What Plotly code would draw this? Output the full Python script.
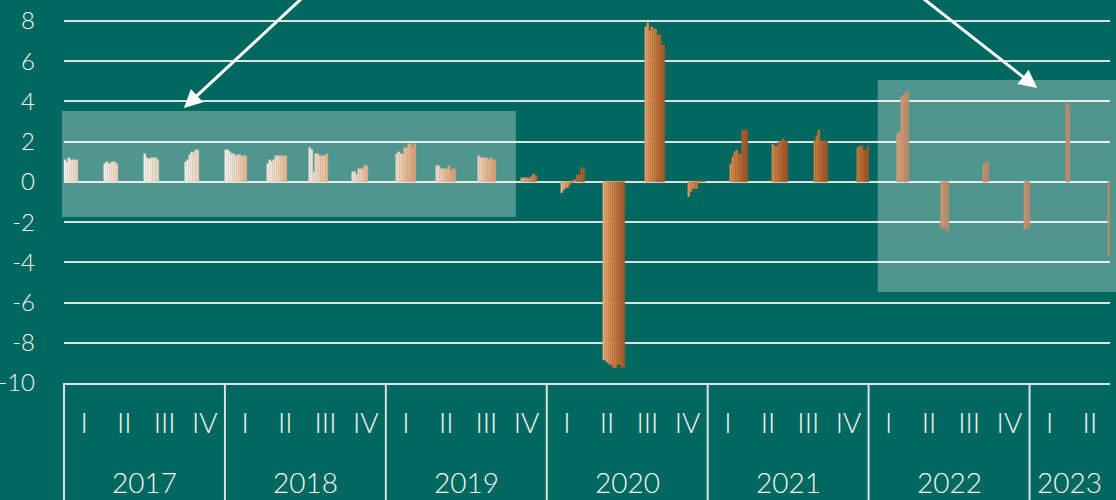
import numpy as np
import plotly.graph_objects as go

# ---------------- data ----------------
years = ["2017", "2018", "2019", "2020", "2021", "2022", "2023"]
quarter_names = ["I", "II", "III", "IV"]
quarters = [f"{y} {q}" for y in years for q in quarter_names][:26]
quarter_ticks = [q.split(" ")[1] for q in quarters]
n_vintages = 20

# index of the first estimate vintage available for each quarter
first_vintage = [0, 0, 0, 0, 0, 1, 2, 3, 5, 5, 6, 7, 7, 8, 9, 10, 11, 12, 13, 14, 14, 16, 17, 17, 18, 19]

# growth estimates per quarter, successive vintages (old -> new)
q2017_1 = [1.1, 1.0, 1.2, 1.1, 1.1, 1.1, 1.1]
q2017_2 = [0.9, 0.98, 0.9, 0.93, 0.98, 0.98, 0.9]
q2017_3 = [1.38, 1.18, 1.13, 1.18, 1.18, 1.18, 1.09]
q2017_4 = [0.98, 1.09, 1.34, 1.48, 1.43, 1.59, 1.6]
q2018_1 = [1.6, 1.6, 1.5, 1.4, 1.4, 1.3, 1.35, 1.35, 1.3, 1.3, 1.3]
q2018_2 = [0.9, 1.1, 1.0, 1.1, 1.3, 1.3, 1.3, 1.3, 1.3, 1.3]
q2018_3 = [1.7, 1.6, 0.5, 1.4, 1.4, 1.3, 1.3, 1.3, 1.4]
q2018_4 = [0.5, 0.5, 0.35, 0.65, 0.65, 0.65, 0.8, 0.8]
q2019_1 = [1.4, 1.5, 1.4, 1.4, 1.7, 1.7, 1.9, 1.9, 1.75, 1.9]
q2019_2 = [0.8, 0.8, 0.65, 0.65, 0.65, 0.65, 0.8, 0.55, 0.65, 0.65]
q2019_3 = [1.3, 1.2, 1.2, 1.2, 1.2, 1.1, 1.2, 1.1, 1.1]
q2019_4 = [0.2, 0.2, 0.2, 0.2, 0.2, 0.3, 0.4, 0.3]
q2020_1 = [-0.53, -0.4, -0.32, -0.32, -0.15, -0.07, 0.1, 0.1, 0.35, 0.35, 0.7, 0.7]
q2020_2 = [-8.85, -8.9, -9.0, -9.1, -9.1, -9.25, -9.25, -9.1, -9.1, -9.25, -9.25]
q2020_3 = [7.7, 7.9, 7.5, 7.7, 7.6, 7.6, 7.3, 7.3, 6.8, 6.8]
q2020_4 = [-0.75, -0.5, -0.35, -0.35, -0.35, 0.0, 0.05, 0.05, 0.0]
q2021_1 = [0.9, 1.25, 1.5, 1.6, 1.4, 1.4, 2.6, 2.6, 2.6]
q2021_2 = [1.9, 1.8, 1.8, 2.0, 2.0, 2.15, 2.05, 2.05]
q2021_3 = [2.05, 2.3, 2.6, 2.05, 2.05, 2.05, 2.05]
q2021_4 = [1.7, 1.8, 1.8, 1.6, 1.6, 1.8]
q2022_1 = [2.4, 2.5, 4.2, 4.3, 4.4, 4.5]
q2022_2 = [-2.3, -2.3, -2.35, -2.5]
q2022_3 = [0.9, 0.95, 1.0]
q2022_4 = [-2.4, -2.3, -2.3]
q2023_1 = [3.9, 3.8]
q2023_2 = [-3.7]

y_ticks = [-10, -8, -6, -4, -2, 0, 2, 4, 6, 8]

series_by_quarter = [
    q2017_1, q2017_2, q2017_3, q2017_4,
    q2018_1, q2018_2, q2018_3, q2018_4,
    q2019_1, q2019_2, q2019_3, q2019_4,
    q2020_1, q2020_2, q2020_3, q2020_4,
    q2021_1, q2021_2, q2021_3, q2021_4,
    q2022_1, q2022_2, q2022_3, q2022_4,
    q2023_1, q2023_2,
]

# ---------------- styles ----------------
BG = "#00685E"
GRID = "#DCE2E0"
TXT = "#F4F4F4"
FONT = "Lato"

stop_pos = [0, 6, 10, 15, 19]
stop_rgb = np.array([[250, 242, 235], [240, 202, 168], [234, 156, 96], [203, 116, 56], [168, 90, 44]])


def vintage_color(v, k=1.0):
    r = np.interp(v, stop_pos, stop_rgb[:, 0]) * k
    g = np.interp(v, stop_pos, stop_rgb[:, 1]) * k
    b = np.interp(v, stop_pos, stop_rgb[:, 2]) * k
    return f"rgb({int(r)},{int(g)},{int(b)})"


fig = go.Figure()
for v in range(n_vintages):
    xs, ys = [], []
    for qi, vals in enumerate(series_by_quarter):
        k = v - first_vintage[qi]
        if 0 <= k < len(vals):
            xs.append(quarters[qi])
            ys.append(vals[k])
    fig.add_trace(go.Bar(
        x=xs, y=ys, name=f"Vintage {v + 1}",
        marker=dict(color=vintage_color(v), line=dict(width=0.5, color=vintage_color(v, 0.82))),
        showlegend=False,
    ))

# highlighted areas
fig.add_shape(type="rect", xref="paper", yref="y", x0=-0.002, x1=0.432, y0=-1.74, y1=3.53,
              fillcolor="rgba(255,255,255,0.31)", line=dict(width=0), layer="above")
fig.add_shape(type="rect", xref="paper", yref="y", x0=0.778, x1=1.01, y0=-5.47, y1=5.07,
              fillcolor="rgba(255,255,255,0.31)", line=dict(width=0), layer="above")

# arrows
fig.add_annotation(x=2.48, y=3.68, ax=5.9, ay=10.04, xref="x", yref="y", axref="x", ayref="y",
                   showarrow=True, arrowhead=2, arrowsize=1.2, arrowwidth=3, arrowcolor="white", text="")
fig.add_annotation(x=23.69, y=4.67, ax=20.27, ay=10.04, xref="x", yref="y", axref="x", ayref="y",
                   showarrow=True, arrowhead=2, arrowsize=1.2, arrowwidth=3, arrowcolor="white", text="")

# year boxes below the axis
n_q = len(quarters)
bounds = [0, 4, 8, 12, 16, 20, 24]
for b in bounds:
    fig.add_shape(type="line", xref="paper", yref="paper", x0=b / n_q, x1=b / n_q, y0=0, y1=-0.32,
                  line=dict(color=GRID, width=2))
for i, yr in enumerate(years):
    start = i * 4
    end = min(start + 4, n_q)
    fig.add_annotation(x=(start + end) / 2 / n_q, y=-0.258, xref="paper", yref="paper",
                       text=yr, showarrow=False,
                       font=dict(size=28, color=TXT, family=FONT, weight=300),
                       xanchor="center", yanchor="middle")

fig.update_layout(
    width=1116, height=500,
    margin=dict(l=64, r=6, t=0, b=117, autoexpand=False),
    paper_bgcolor=BG, plot_bgcolor=BG,
    barmode="group", bargap=0, bargroupgap=0,
    font=dict(family=FONT, color=TXT, weight=300),
)
fig.update_xaxes(
    type="category", categoryorder="array", categoryarray=quarters,
    range=[-0.5, n_q - 0.5], automargin=False,
    tickvals=quarters, ticktext=quarter_ticks,
    tickfont=dict(size=28, color=TXT, family=FONT, weight=300),
    showgrid=False, ticks="", ticklabelstandoff=14,
    showline=True, linecolor=GRID, linewidth=2,
)
fig.update_yaxes(
    range=[-10, 9.045], tickvals=y_ticks, ticktext=[str(t) for t in y_ticks],
    automargin=False,
    tickfont=dict(size=24, color=TXT, family=FONT, weight=300),
    showgrid=True, gridcolor=GRID, gridwidth=2,
    zeroline=True, zerolinecolor=GRID, zerolinewidth=2,
    ticks="", ticklabelstandoff=28, showline=False,
)

fig.write_html("out.html", config={"displayModeBar": False},
               post_script="document.body.style.margin='0';document.body.style.overflow='hidden';")
